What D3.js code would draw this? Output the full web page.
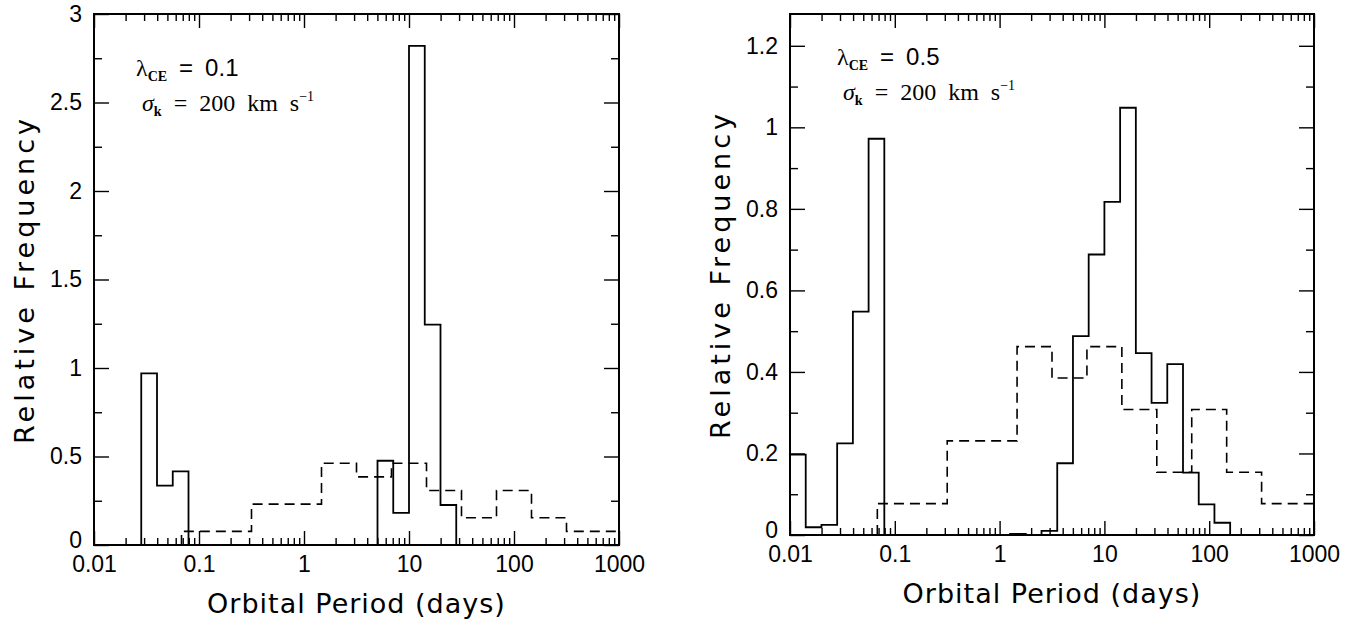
<!DOCTYPE html>
<html>
<head>
<meta charset="utf-8">
<script src="https://cdn.jsdelivr.net/npm/d3@7"></script>
<style>
  body { margin: 0; background: #fff; }
  svg { display: block; }
  .tick text { font-family: "Liberation Sans", sans-serif; font-size: 23px; fill: #000; }
  .tick line { stroke: #000; stroke-width: 1.4; }
  .domain { display: none; }
  .lab { font-family: "DejaVu Sans", sans-serif; font-size: 27px; fill: #000; }
  .ann { font-family: "Liberation Serif", serif; font-size: 24px; fill: #000; }
</style>
</head>
<body>
<script>
// bin edges are log10(P / days); values are relative frequency
var leftSolidEdges  = [-1.55, -1.40, -1.25, -1.10, 0.70, 0.85, 1.00, 1.15, 1.30, 1.45];
var leftSolidValues = [0.970, 0.335, 0.416, 0, 0.476, 0.182, 2.820, 1.245, 0.226];

var rightSolidEdges  = [-2.00, -1.85, -1.70, -1.55, -1.40, -1.25, -1.10, 0.10, 0.25, 0.40, 0.55,
                        0.70, 0.85, 1.00, 1.15, 1.30, 1.45, 1.60, 1.75, 1.90, 2.05, 2.20, 3.00];
var rightSolidValues = [0.197, 0.019, 0.025, 0.225, 0.548, 0.972, 0, 0.003, 0, 0.010, 0.176,
                        0.488, 0.688, 0.817, 1.048, 0.446, 0.324, 0.419, 0.153, 0.075, 0.030, 0];

// dashed (same in both panels)
var dashEdges  = [-1.1667, -0.5, 0.1667, 0.5, 0.8333, 1.1667, 1.5, 1.8333, 2.1667, 2.5, 3.0];
var dashValues = [0.077, 0.231, 0.462, 0.385, 0.462, 0.308, 0.154, 0.308, 0.154, 0.077];

var xMajor = [0.01, 0.1, 1, 10, 100, 1000];
var xLabels = ["0.01", "0.1", "1", "10", "100", "1000"];

var leftYMajor = [0, 0.5, 1, 1.5, 2, 2.5, 3];
var leftYLabels = ["0", "0.5", "1", "1.5", "2", "2.5", "3"];
var leftYMinor = [0.25, 0.75, 1.25, 1.75, 2.25, 2.75];

var rightYMajor = [0, 0.2, 0.4, 0.6, 0.8, 1, 1.2];
var rightYLabels = ["0", "0.2", "0.4", "0.6", "0.8", "1", "1.2"];
var rightYMinor = [0.1, 0.3, 0.5, 0.7, 0.9, 1.1];

var panels = [
  { x0: 94, x1: 619, y0: 14, y1: 545, ymax: 3,
    yMajor: leftYMajor, yLabels: leftYLabels, yMinor: leftYMinor,
    solidE: leftSolidEdges, solidV: leftSolidValues,
    lam: "0.1", annX: 136, annY1: 76, annY2: 111, ylabX: 34 },
  { x0: 790, x1: 1314, y0: 14, y1: 535, ymax: 1.278,
    yMajor: rightYMajor, yLabels: rightYLabels, yMinor: rightYMinor,
    solidE: rightSolidEdges, solidV: rightSolidValues,
    lam: "0.5", annX: 837, annY1: 65, annY2: 100, ylabX: 730 }
];

var svg = d3.select("body").append("svg")
    .attr("width", 1369)
    .attr("height", 619);

var xMinor = [];
[0.01, 0.1, 1, 10, 100].forEach(function(d) {
  for (var m = 2; m <= 9; m++) xMinor.push(d * m);
});

panels.forEach(function(p) {
  var x = d3.scaleLog().domain([0.01, 1000]).range([p.x0, p.x1]);
  var y = d3.scaleLinear().domain([0, p.ymax]).range([p.y1, p.y0]);
  var W = p.x1 - p.x0, H = p.y1 - p.y0;

  var g = svg.append("g");

  // bottom
  g.append("g").attr("transform", "translate(0," + p.y1 + ")")
    .call(d3.axisBottom(x).tickValues(xMajor).tickSize(-14).tickSizeOuter(0).tickPadding(11)
      .tickFormat(function(d, i) { return xLabels[i]; }));
  g.append("g").attr("transform", "translate(0," + p.y1 + ")")
    .call(d3.axisBottom(x).tickValues(xMinor).tickSize(-7).tickSizeOuter(0).tickFormat(""));
  // top
  g.append("g").attr("transform", "translate(0," + p.y0 + ")")
    .call(d3.axisTop(x).tickValues(xMajor).tickSize(-14).tickSizeOuter(0).tickFormat(""));
  g.append("g").attr("transform", "translate(0," + p.y0 + ")")
    .call(d3.axisTop(x).tickValues(xMinor).tickSize(-7).tickSizeOuter(0).tickFormat(""));
  // left
  g.append("g").attr("transform", "translate(" + p.x0 + ",0)")
    .call(d3.axisLeft(y).tickValues(p.yMajor).tickSize(-15).tickSizeOuter(0).tickPadding(12)
      .tickFormat(function(d, i) { return p.yLabels[i]; }));
  g.append("g").attr("transform", "translate(" + p.x0 + ",0)")
    .call(d3.axisLeft(y).tickValues(p.yMinor).tickSize(-8).tickSizeOuter(0).tickFormat(""));
  // right
  g.append("g").attr("transform", "translate(" + p.x1 + ",0)")
    .call(d3.axisRight(y).tickValues(p.yMajor).tickSize(-15).tickSizeOuter(0).tickFormat(""));
  g.append("g").attr("transform", "translate(" + p.x1 + ",0)")
    .call(d3.axisRight(y).tickValues(p.yMinor).tickSize(-8).tickSizeOuter(0).tickFormat(""));

  // the "0" y label sits just above the x labels
  g.selectAll(".tick text").filter(function() { return this.textContent === "0"; })
    .attr("dy", "0.1em");

  // frame
  g.append("rect").attr("x", p.x0).attr("y", p.y0).attr("width", W).attr("height", H)
    .attr("fill", "none").attr("stroke", "#000").attr("stroke-width", 2);

  function stepPath(edges, vals) {
    var pts = [[edges[0], 0]];
    vals.forEach(function(v, i) {
      pts.push([edges[i], v]);
      pts.push([edges[i + 1], v]);
    });
    pts.push([edges[edges.length - 1], 0]);
    return d3.line()
      .x(function(d) { return x(Math.pow(10, d[0])); })
      .y(function(d) { return y(d[1]); })(pts);
  }

  g.append("path").attr("d", stepPath(dashEdges, dashValues))
    .attr("fill", "none").attr("stroke", "#000").attr("stroke-width", 1.6)
    .attr("stroke-dasharray", "10,6");
  g.append("path").attr("d", stepPath(p.solidE, p.solidV))
    .attr("fill", "none").attr("stroke", "#000").attr("stroke-width", 1.8);

  // axis titles
  g.append("text").attr("class", "lab")
    .attr("x", (p.x0 + p.x1) / 2).attr("y", p.y1 + 68)
    .attr("text-anchor", "middle").style("letter-spacing", "1px")
    .text("Orbital Period (days)");
  g.append("text").attr("class", "lab")
    .attr("transform", "translate(" + p.ylabX + "," + ((p.y0 + p.y1) / 2) + ") rotate(-90)")
    .attr("text-anchor", "middle").style("letter-spacing", "4px")
    .text("Relative Frequency");

  // annotations
  var t1 = g.append("text").attr("class", "ann").attr("x", p.annX).attr("y", p.annY1);
  t1.append("tspan").text("λ");
  t1.append("tspan").attr("dy", 5).attr("font-size", 14).attr("font-weight", "bold").text("CE");
  t1.append("tspan").attr("dy", -5).attr("font-family", "Liberation Sans")
    .text("\u2002=\u2002" + p.lam);

  var t2 = g.append("text").attr("class", "ann").attr("x", p.annX + 6).attr("y", p.annY2);
  t2.append("tspan").attr("font-style", "italic").text("σ");
  t2.append("tspan").attr("dy", 5).attr("font-size", 14).attr("font-weight", "bold").text("k");
  t2.append("tspan").attr("dy", -5).text("\u2002=\u2002200\u2002km\u2002s");
  t2.append("tspan").attr("dy", -10).attr("font-size", 14).text("−1");
});
</script>
</body>
</html>
